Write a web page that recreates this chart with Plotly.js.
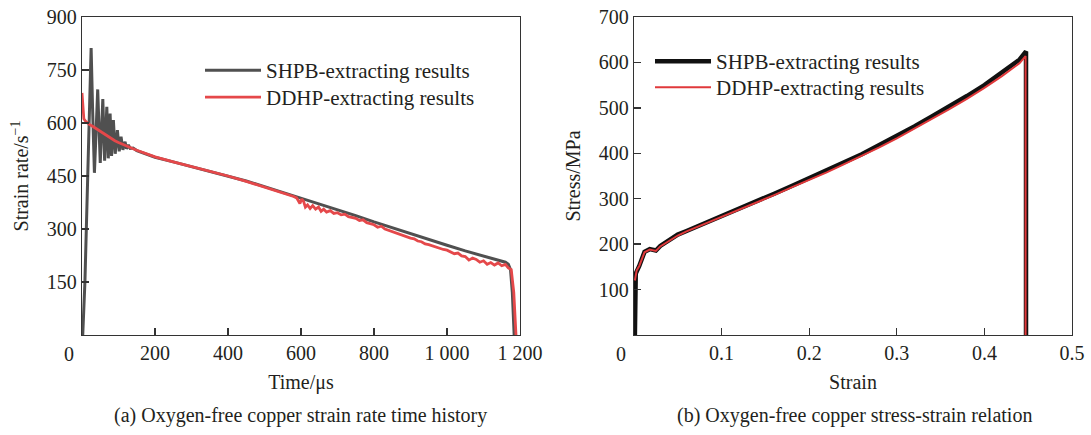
<!DOCTYPE html>
<html>
<head>
<meta charset="utf-8">
<script src="https://cdn.plot.ly/plotly-3.0.1.min.js"></script>
<style>html,body{margin:0;padding:0;background:#fff;}#chart{width:1091px;height:435px;}</style>
</head>
<body>
<div id="chart"></div>
<script>
// ---- (a) strain rate time history ----
const shpbTime = [0, 2, 8, 15, 20, 25, 29, 34, 38, 43, 50, 57, 62, 68, 72, 77, 81, 86, 91, 97, 102, 107, 112, 118, 122, 127, 132, 140, 150, 175, 200, 250, 300, 350, 400, 450, 500, 550, 600, 650, 700, 750, 800, 850, 900, 950, 1000, 1050, 1100, 1140, 1160, 1168, 1174, 1179, 1184];
const shpbRate = [0, 0, 150, 420, 665, 812, 640, 459, 560, 695, 487, 668, 493, 646, 500, 627, 507, 608, 513, 580, 520, 561, 524, 547, 527, 538, 528, 529, 522, 512, 503, 490, 477, 464, 451, 436, 420, 404, 388, 371, 355, 338, 320, 303, 286, 270, 254, 238, 223, 211, 206, 200, 185, 120, 0];
const ddhpTime = [0, 2, 5, 10, 15, 20, 30, 40, 50, 60, 70, 80, 90, 100, 110, 120, 130, 140, 150, 175, 200, 250, 300, 350, 400, 450, 500, 550, 580, 588, 592, 597, 602, 607, 612, 618, 625, 632, 640, 648, 655, 662, 670, 680, 690, 700, 710, 720, 730, 740, 750, 760, 770, 780, 790, 800, 810, 820, 830, 840, 850, 860, 870, 880, 890, 900, 910, 920, 930, 940, 950, 960, 970, 980, 990, 1000, 1010, 1020, 1030, 1040, 1050, 1060, 1070, 1080, 1090, 1100, 1110, 1120, 1130, 1140, 1150, 1160, 1168, 1176, 1183, 1189];
const ddhpRate = [685, 640, 612, 605, 600, 596, 590, 583, 576, 569, 562, 556, 550, 545, 540, 535, 531, 527, 523, 513, 504, 490, 477, 463, 450, 435, 419, 403, 392, 388, 382, 372, 385, 378, 362, 368, 358, 366, 356, 362, 350, 356, 348, 352, 344, 346, 340, 342, 335, 333, 330, 324, 326, 318, 316, 312, 305, 308, 300, 296, 294, 290, 284, 282, 276, 274, 272, 266, 264, 258, 256, 252, 248, 246, 242, 240, 236, 230, 232, 224, 222, 212, 218, 214, 206, 210, 200, 205, 198, 204, 196, 200, 190, 185, 120, 0];

// ---- (b) stress-strain relation ----
const shpbStrain = [0.001, 0.001, 0.002, 0.006, 0.012, 0.018, 0.025, 0.030, 0.040, 0.050, 0.060, 0.070, 0.080, 0.090, 0.100, 0.120, 0.140, 0.160, 0.180, 0.200, 0.220, 0.240, 0.260, 0.280, 0.300, 0.320, 0.340, 0.360, 0.380, 0.400, 0.420, 0.440, 0.4475, 0.4475];
const shpbStress = [0, 100, 135, 152, 183, 189, 186, 196, 209, 221, 229, 237, 245, 253, 261, 278, 295, 311, 328, 345, 362, 380, 398, 418, 438, 459, 481, 503, 526, 550, 578, 606, 624, 0];
const ddhpStrain = [0.001, 0.003, 0.006, 0.012, 0.018, 0.025, 0.030, 0.040, 0.050, 0.060, 0.070, 0.080, 0.090, 0.100, 0.120, 0.140, 0.160, 0.180, 0.200, 0.220, 0.240, 0.260, 0.280, 0.300, 0.320, 0.340, 0.360, 0.380, 0.400, 0.420, 0.440, 0.447, 0.447];
const ddhpStress = [120, 142, 152, 182, 188, 185, 195, 208, 219, 228, 236, 243, 251, 259, 276, 292, 308, 325, 341, 358, 376, 394, 413, 433, 454, 475, 497, 520, 544, 570, 598, 614, 0];

const xTicksA = [200, 400, 600, 800, 1000, 1200];
const xTickTextA = ['200', '400', '600', '800', '1 000', '1 200'];
const yTicksA = [150, 300, 450, 600, 750, 900];
const xTicksB = [0.1, 0.2, 0.3, 0.4, 0.5];
const xTickTextB = ['0.1', '0.2', '0.3', '0.4', '0.5'];
const yTicksB = [100, 200, 300, 400, 500, 600, 700];

const FONT = '"Liberation Serif", "Times New Roman", serif';
const TXT = '#231f20';
const AX = '#333333';

const traces = [
  {x: shpbTime, y: shpbRate, type: 'scatter', mode: 'lines', name: 'SHPB-extracting results',
   line: {color: '#505050', width: 3}, xaxis: 'x', yaxis: 'y', legend: 'legend'},
  {x: ddhpTime, y: ddhpRate, type: 'scatter', mode: 'lines', name: 'DDHP-extracting results',
   line: {color: '#e5484a', width: 2.8}, xaxis: 'x', yaxis: 'y', legend: 'legend3'},
  {x: shpbStrain, y: shpbStress, type: 'scatter', mode: 'lines', name: 'SHPB-extracting results',
   line: {color: '#111111', width: 4.5}, xaxis: 'x2', yaxis: 'y2', legend: 'legend2'},
  {x: ddhpStrain, y: ddhpStress, type: 'scatter', mode: 'lines', name: 'DDHP-extracting results',
   line: {color: '#e0393b', width: 2}, xaxis: 'x2', yaxis: 'y2', legend: 'legend4'}
];

function axisBase(extra) {
  return Object.assign({
    showgrid: false, zeroline: false, showline: true, mirror: true, automargin: false,
    linecolor: AX, linewidth: 1.3, ticks: 'inside', ticklen: 7, tickwidth: 1.3, tickcolor: AX,
    tickfont: {family: FONT, size: 20, color: TXT}, tickangle: 0, fixedrange: true
  }, extra);
}

const W = 990, H = 318;
function legendAt(leftPx, topPx) {
  return {x: (leftPx - 82) / W, y: (335 - topPx) / H, xanchor: 'left', yanchor: 'top',
    bgcolor: 'rgba(0,0,0,0)', borderwidth: 0, font: {family: FONT, size: 21, color: TXT},
    itemwidth: 56, traceorder: 'normal'};
}

const layout = {
  width: 1091, height: 435,
  margin: {l: 82, r: 19, t: 17, b: 100, autoexpand: false},
  paper_bgcolor: '#ffffff', plot_bgcolor: '#ffffff',
  font: {family: FONT, size: 20, color: TXT},
  showlegend: true,
  xaxis: axisBase({domain: [0, 438 / W], range: [0, 1200], tickvals: xTicksA, ticktext: xTickTextA,
    title: {text: 'Time/μs', font: {family: FONT, size: 20, color: TXT}, standoff: 11}}),
  yaxis: axisBase({domain: [0, 1], range: [0, 900], tickvals: yTicksA,
    title: {text: 'Strain rate/s<sup>−1</sup>', font: {family: FONT, size: 20, color: TXT}, standoff: 12}}),
  xaxis2: axisBase({domain: [552 / W, 1], range: [0, 0.5], tickvals: xTicksB, ticktext: xTickTextB, anchor: 'y2',
    title: {text: 'Strain', font: {family: FONT, size: 20, color: TXT}, standoff: 11}}),
  yaxis2: axisBase({domain: [0, 1], range: [0, 700], tickvals: yTicksB, anchor: 'x2',
    title: {text: 'Stress/MPa', font: {family: FONT, size: 20, color: TXT}, standoff: 12}}),
  legend: legendAt(200, 50),
  legend3: legendAt(200, 77),
  legend2: legendAt(650, 41),
  legend4: legendAt(650, 67),
  annotations: [
    {xref: 'x', yref: 'paper', x: 0, y: 0, xshift: -13, yshift: -6, xanchor: 'center', yanchor: 'top',
     text: '0', showarrow: false, font: {family: FONT, size: 20, color: TXT}},
    {xref: 'x2', yref: 'paper', x: 0, y: 0, xshift: -13, yshift: -6, xanchor: 'center', yanchor: 'top',
     text: '0', showarrow: false, font: {family: FONT, size: 20, color: TXT}},
    {xref: 'paper', yref: 'paper', x: 218 / W, y: 0, yshift: -80, xanchor: 'center', yanchor: 'middle',
     text: '(a) Oxygen-free copper strain rate time history', showarrow: false,
     font: {family: FONT, size: 20, color: TXT}},
    {xref: 'paper', yref: 'paper', x: 772 / W, y: 0, yshift: -80, xanchor: 'center', yanchor: 'middle',
     text: '(b) Oxygen-free copper stress-strain relation', showarrow: false,
     font: {family: FONT, size: 20, color: TXT}}
  ]
};

Plotly.newPlot('chart', traces, layout, {displayModeBar: false, staticPlot: true});
</script>
</body>
</html>
